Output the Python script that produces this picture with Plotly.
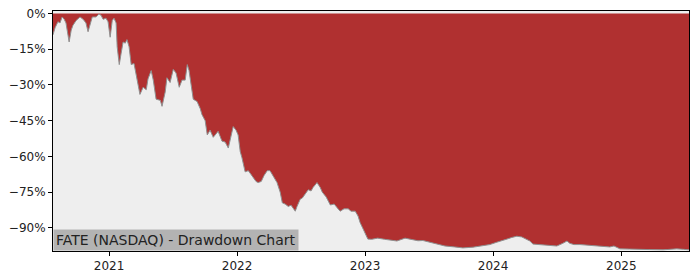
import plotly.graph_objects as go

dates = [
    "2020-07-25", "2020-07-31", "2020-08-08", "2020-08-14", "2020-08-20", "2020-08-26",
    "2020-08-31", "2020-09-09", "2020-09-15", "2020-09-20", "2020-09-29", "2020-10-10",
    "2020-10-19", "2020-10-27", "2020-11-02", "2020-11-08", "2020-11-14", "2020-11-25",
    "2020-12-03", "2020-12-09", "2020-12-15", "2020-12-23", "2020-12-29", "2021-01-04",
    "2021-01-10", "2021-01-15", "2021-01-21", "2021-01-24", "2021-01-30", "2021-02-04",
    "2021-02-10", "2021-02-16", "2021-02-21", "2021-02-27", "2021-03-05", "2021-03-13",
    "2021-03-22", "2021-03-30", "2021-04-08", "2021-04-17", "2021-04-22", "2021-05-01",
    "2021-05-07", "2021-05-15", "2021-05-27", "2021-06-01", "2021-06-10", "2021-06-15",
    "2021-06-24", "2021-07-03", "2021-07-11", "2021-07-20", "2021-07-28", "2021-08-06",
    "2021-08-12", "2021-08-17", "2021-08-23", "2021-08-29", "2021-09-09", "2021-09-18",
    "2021-09-23", "2021-10-02", "2021-10-08", "2021-10-16", "2021-10-25", "2021-10-30",
    "2021-11-08", "2021-11-19", "2021-11-28", "2021-12-07", "2021-12-15", "2021-12-21",
    "2021-12-29", "2022-01-04", "2022-01-10", "2022-01-15", "2022-01-24", "2022-02-02",
    "2022-02-07", "2022-02-16", "2022-02-24", "2022-03-02", "2022-03-11", "2022-03-19",
    "2022-03-28", "2022-04-05", "2022-04-14", "2022-04-25", "2022-05-04", "2022-05-10",
    "2022-05-18", "2022-05-27", "2022-06-04", "2022-06-16", "2022-06-21", "2022-06-30",
    "2022-07-06", "2022-07-14", "2022-07-23", "2022-07-31", "2022-08-06", "2022-08-17",
    "2022-08-26", "2022-09-01", "2022-09-12", "2022-09-24", "2022-10-05", "2022-10-13",
    "2022-10-22", "2022-11-02", "2022-11-14", "2022-11-22", "2022-12-04", "2022-12-12",
    "2022-12-18", "2022-12-27", "2023-01-03", "2023-01-09", "2023-01-20", "2023-02-06",
    "2023-02-26", "2023-03-13", "2023-04-02", "2023-04-25", "2023-05-14", "2023-06-01",
    "2023-06-15", "2023-07-05", "2023-07-25", "2023-08-17", "2023-09-14", "2023-10-07",
    "2023-11-05", "2023-12-03", "2023-12-23", "2024-01-12", "2024-01-26", "2024-02-10",
    "2024-02-24", "2024-03-09", "2024-03-23", "2024-04-07", "2024-04-15", "2024-04-24",
    "2024-05-14", "2024-06-11", "2024-07-01", "2024-07-18", "2024-07-30", "2024-08-07",
    "2024-08-19", "2024-09-05", "2024-09-25", "2024-10-23", "2024-11-15", "2024-11-29",
    "2024-12-11", "2024-12-28", "2025-01-25", "2025-02-23", "2025-03-23", "2025-04-30",
    "2025-05-20", "2025-06-08", "2025-06-28", "2025-07-13",
]

drawdown = [
    -9, -6, -3.5, -4, -1.5, -2.5,
    -4, -12, -7, -5, -3, -1.5,
    -2.5, -4, -7.7, -4, -1.5, -1.5,
    -0.3, -0.8, -2.5, -2, -3.5, -10,
    -3, -2, -4, -14, -21.5, -17,
    -12, -12.5, -11, -14, -21.5, -21,
    -27.5, -34, -31, -32, -27.5, -24,
    -28, -36, -36.5, -39, -33, -27,
    -29, -23.5, -25, -31, -28, -28,
    -21.5, -24, -30, -36, -37, -40,
    -42.5, -45, -51, -49, -52, -51,
    -49.5, -53.6, -54, -56.5, -52, -47.5,
    -49, -51, -58, -60.6, -66.5, -66,
    -67, -68.8, -70.5, -71, -70.5, -68,
    -66, -66, -68, -71, -75, -79.5,
    -80, -81, -80.5, -83, -81, -78,
    -77.5, -76, -74, -74.5, -73, -71,
    -73, -75, -77, -80.4, -80, -81.5,
    -83, -82, -82, -83, -83, -85,
    -87.8, -90.6, -93, -94.7, -94.8, -94.3,
    -94.8, -95.2, -95.5, -94.3, -95, -95.4,
    -95.3, -96, -97, -97.6, -98, -98.4,
    -98.1, -97.6, -97, -96, -95.5, -94.7,
    -94, -93.5, -93.8, -94.7, -95.5, -96.8,
    -97, -97.3, -97.6, -96.5, -95.5, -96.5,
    -97, -97, -97.2, -97.6, -97.8, -98,
    -97.6, -98.8, -98.9, -99.1, -99.1, -99.2,
    -99, -98.8, -99, -99.2,
]

y_ticks = [0, -15, -30, -45, -60, -75, -90]
y_tick_labels = ["0%", "\u221215%", "\u221230%", "\u221245%", "\u221260%", "\u221275%", "\u221290%"]
x_ticks = ["2021-01-01", "2022-01-01", "2023-01-01", "2024-01-01", "2025-01-01"]
x_tick_labels = ["2021", "2022", "2023", "2024", "2025"]
title_text = "FATE (NASDAQ) - Drawdown Chart"

fig = go.Figure()
fig.add_trace(go.Scatter(
    x=dates, y=drawdown, mode="lines", fill="tozeroy",
    fillcolor="#b03030", line=dict(color="#909090", width=1),
    hoverinfo="skip", showlegend=False,
))

fig.update_layout(
    width=700, height=280,
    margin=dict(l=53, r=11, t=7, b=29),
    paper_bgcolor="white", plot_bgcolor="#eeeeee",
    font=dict(family="DejaVu Sans", size=12, color="#222222"),
    xaxis=dict(
        range=["2020-07-25", "2025-07-13"],
        tickvals=x_ticks, ticktext=x_tick_labels,
        showgrid=False, zeroline=False,
        showline=True, linecolor="black", linewidth=1, mirror=True,
        ticks="outside", ticklen=4, tickcolor="black",
    ),
    yaxis=dict(
        range=[-99.7, 1.0],
        tickvals=y_ticks, ticktext=y_tick_labels,
        showgrid=False, zeroline=False,
        showline=True, linecolor="black", linewidth=1, mirror=True,
        ticks="outside", ticklen=4, tickcolor="black",
    ),
    annotations=[dict(
        text=title_text, xref="paper", yref="paper", x=0, y=0,
        xanchor="left", yanchor="bottom", showarrow=False,
        bgcolor="#b3b3b3", font=dict(size=14, color="#222222"),
        borderpad=2,
    )],
)

fig.write_html("out.html")
